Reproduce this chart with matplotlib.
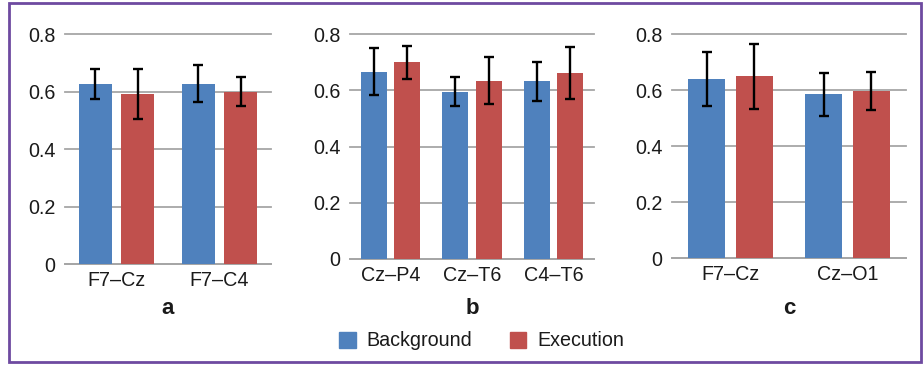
import matplotlib
matplotlib.use("Agg")
import matplotlib.pyplot as plt
from matplotlib.patches import Patch, Rectangle
import numpy as np

plt.rcParams['font.family'] = ['Liberation Sans', 'DejaVu Sans']

# Data
cats_a = ["F7\u2013Cz", "F7\u2013C4"]
bg_a = [0.628, 0.628]
bg_a_err = [0.053, 0.065]
ex_a = [0.592, 0.600]
ex_a_err = [0.088, 0.051]

cats_b = ["Cz\u2013P4", "Cz\u2013T6", "C4\u2013T6"]
bg_b = [0.667, 0.596, 0.632]
bg_b_err = [0.083, 0.053, 0.068]
ex_b = [0.700, 0.635, 0.662]
ex_b_err = [0.058, 0.083, 0.093]

cats_c = ["F7\u2013Cz", "Cz\u2013O1"]
bg_c = [0.640, 0.586]
bg_c_err = [0.097, 0.077]
ex_c = [0.650, 0.598]
ex_c_err = [0.115, 0.069]

panel_letters = ["a", "b", "c"]
yticks = [0, 0.2, 0.4, 0.6, 0.8]
ytick_labels = ["0", "0.2", "0.4", "0.6", "0.8"]
series_names = ["Background", "Execution"]

BLUE = "#4F81BD"
RED = "#C0504D"
GRID = "#a6a6a6"
TXT = "#1a1a1a"
FS = 14.2

W, H = 923, 365
fig = plt.figure(figsize=(W / 100, H / 100), dpi=100)

def px_axes(l, r, b, t):
    return [l / W, (H - b) / H, (r - l) / W, (b - t) / H]

rects = [px_axes(65, 271, 264.3, 34.3),
         px_axes(350, 594, 259, 34.3),
         px_axes(672, 906, 258.3, 34.3)]

data = [(cats_a, bg_a, bg_a_err, ex_a, ex_a_err),
        (cats_b, bg_b, bg_b_err, ex_b, ex_b_err),
        (cats_c, bg_c, bg_c_err, ex_c, ex_c_err)]

bw = 0.32
off = 0.205
for rect, (cats, bg, bge, ex, exe), letter in zip(rects, data, panel_letters):
    ax = fig.add_axes(rect)
    x = np.arange(len(cats))
    ekw = dict(elinewidth=1.7, capthick=1.7, ecolor="black")
    ax.bar(x - off, bg, bw, color=BLUE, yerr=bge, capsize=3.8, error_kw=ekw, zorder=2)
    ax.bar(x + off, ex, bw, color=RED, yerr=exe, capsize=3.8, error_kw=ekw, zorder=2)
    ax.set_xlim(-0.5, len(cats) - 0.5)
    ax.set_ylim(0, 0.8)
    ax.set_yticks(yticks)
    ax.set_yticklabels(ytick_labels)
    ax.set_xticks(x)
    ax.set_xticklabels(cats)
    for s in ["top", "right", "left"]:
        ax.spines[s].set_visible(False)
    ax.spines["bottom"].set_color(GRID)
    ax.spines["bottom"].set_linewidth(1.3)
    ax.spines["bottom"].set_zorder(1)
    ax.set_axisbelow(True)
    ax.yaxis.grid(True, color=GRID, linewidth=1.3)
    ax.tick_params(axis="both", length=0, labelsize=FS, colors=TXT)
    ax.tick_params(axis="y", pad=7)
    ax.tick_params(axis="x", pad=5)
    for line in ax.yaxis.get_gridlines():
        line.set_clip_on(False)
    cx = rect[0] + rect[2] / 2
    fig.text(cx, (H - 314) / H, letter, ha="center", va="baseline",
             fontsize=16, fontweight="bold", color=TXT)

handles = [Patch(facecolor=BLUE, edgecolor=BLUE), Patch(facecolor=RED, edgecolor=RED)]
fig.legend(handles, series_names, loc="center", bbox_to_anchor=(0.5217, (H - 341) / H),
           ncol=2, frameon=False, fontsize=FS, handlelength=0.85, handleheight=0.85,
           handletextpad=0.55, columnspacing=1.9, labelcolor=TXT)

border = Rectangle((9 / W, 3 / H), (921 - 9) / W, (362 - 3) / H, transform=fig.transFigure,
                   fill=False, edgecolor="#6e4aa0", linewidth=2.0)
fig.patches.append(border)

fig.savefig("out.png", dpi=100)
